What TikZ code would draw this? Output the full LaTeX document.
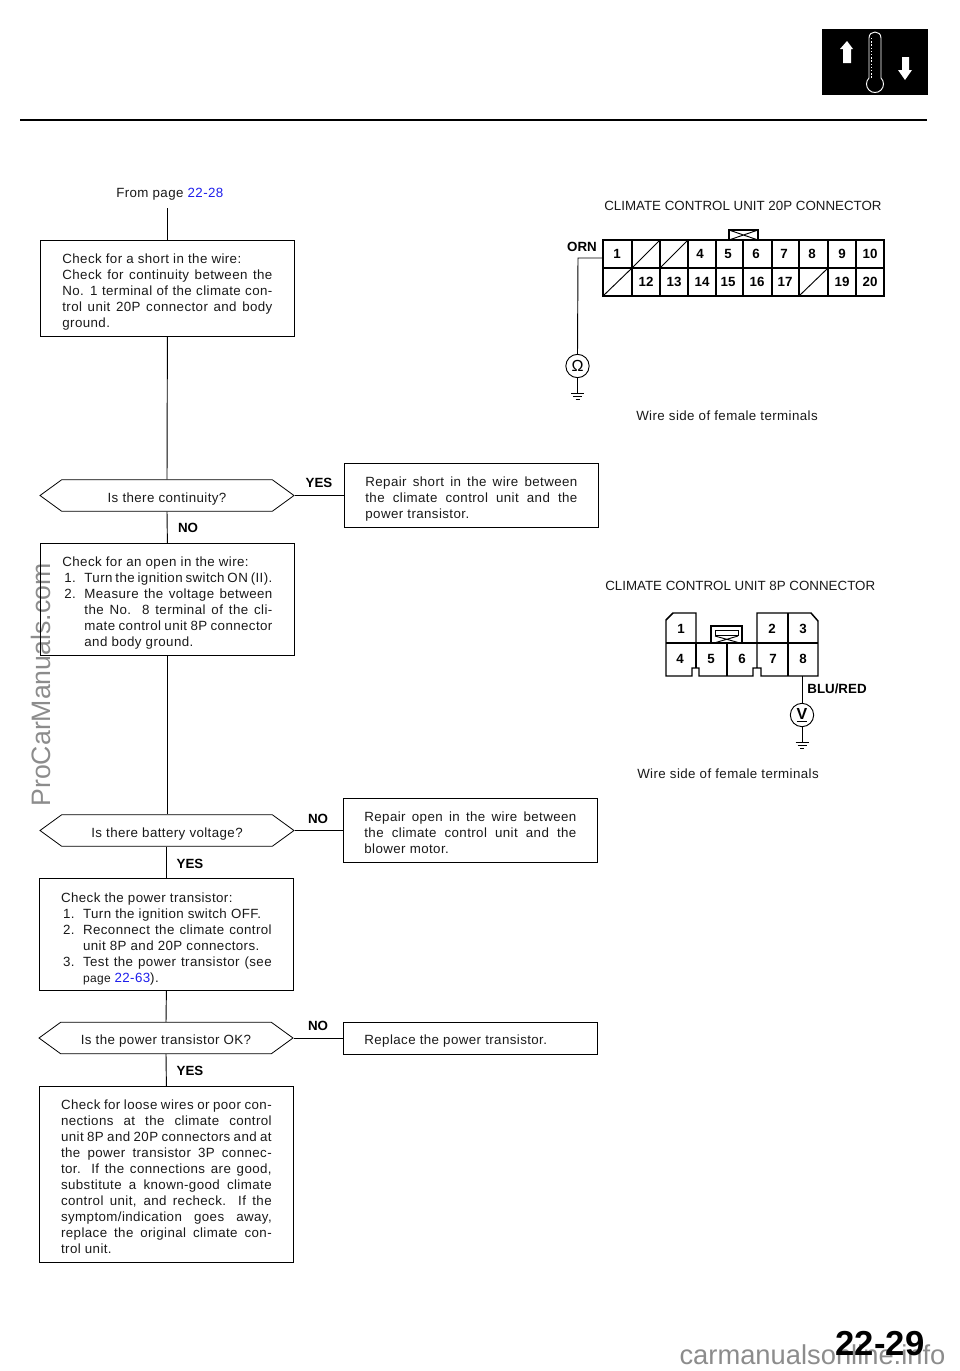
\documentclass[tikz,border=0pt]{standalone}
\usepackage{fontspec}
\setmainfont{Liberation Sans}
\newfontfamily\bodyf[LetterSpace=3]{Liberation Sans}
\usetikzlibrary{shapes.symbols,calc}
\definecolor{linkblue}{RGB}{30,30,235}
\newcommand{\jl}[2]{\makebox[#1pt][s]{#2}}
\newcommand{\lk}[1]{\textcolor{linkblue}{#1}}
\newcommand{\fl}{\rule{0pt}{12.5pt}}
\newcommand{\flh}{\rule{0pt}{14pt}}
\newcommand{\fls}{\rule{0pt}{11pt}}
\newcommand{\num}[1]{\hspace*{1.5pt}\makebox[15pt][l]{#1}}
\newcommand{\hexlift}[1]{\raisebox{-4.9pt}[0pt][0pt]{#1}}
\newcommand{\gnd}[2]{\draw[wire] (#1-6.5,#2) -- (#1+6.5,#2) (#1-4.5,#2+3) -- (#1+4.5,#2+3) (#1-2,#2+6) -- (#1+2,#2+6);}
\tikzset{
 x=0.75pt,y=-0.75pt,
 txt/.style={font=\fontsize{10}{12}\selectfont\bodyf,inner sep=0pt,text=black!90},
 ttl/.style={font=\fontsize{10}{12}\selectfont,inner sep=0pt,text=black!90},
 stepbox/.style={draw,line width=0.6pt,minimum width=190.5pt,align=left,inner sep=0pt,font=\fontsize{10}{12}\selectfont\bodyf,text=black!90},
 hexbox/.style={draw,line width=0.6pt,signal,signal to=east and west,signal pointer angle=72,minimum width=190.5pt,minimum height=23.5pt,inner sep=0pt,font=\fontsize{10}{12}\selectfont\bodyf,text=black!90},
 flow/.style={line width=0.7pt},
 lab/.style={font=\bfseries\fontsize{10}{12}\selectfont,inner sep=0pt},
 wire/.style={line width=0.7pt},
 conn/.style={line width=1.1pt},
 pin/.style={font=\bfseries\fontsize{10}{12}\selectfont,inner sep=0pt},
 meter/.style={draw,circle,line width=0.7pt,minimum size=17.5pt,inner sep=0pt,font=\fontsize{12}{12}\selectfont},
 wm/.style={inner sep=0pt,text=black,text opacity=0.45},
}
\begin{document}
\begin{tikzpicture}
\useasboundingbox (0,0) rectangle (960,1371);
% header
\draw[line width=1.5pt] (20,120) -- (927,120);
\fill[black] (822,29) rectangle (928,95);
\fill[white] (847,41) -- (853,49) -- (851,49) -- (851,63) -- (843,63) -- (843,49) -- (840,49) -- cycle;
\fill[white] (905,80) -- (912,70) -- (909,70) -- (909,57) -- (902,57) -- (902,70) -- (898,70) -- cycle;
\draw[white,line width=0.7pt] (869,78) -- (869,38) .. controls (869,30) and (881,30) .. (881,38) -- (881,78) arc (-45:225:8.5);
\draw[white,line width=1pt,dash pattern=on 1pt off 1.4pt] (871.5,38) -- (871.5,78);
% flow
\node[txt,anchor=west] (from) at (116,194) {From page \lk{22-28}};
\coordinate (fromend) at (167.5,208);
\node[stepbox,anchor=north west,minimum height=72pt] (b1) at (40,240) {\jl{157.5}{\fl Check for a short in the wire:\hfill}\\\jl{157.5}{Check for continuity between the}\\\jl{157.5}{No. 1 terminal of the climate con-}\\\jl{157.5}{trol unit 20P connector and body}\\\jl{157.5}{ground.\hfill}};
\node[hexbox] (h1) at (167,495.5) {\hexlift{Is there continuity?}};
\node[stepbox,anchor=north west,minimum height=48pt] (r1) at (344,463) {\jl{159}{\fl Repair short in the wire between}\\\jl{159}{the climate control unit and the}\\\jl{159}{power transistor.\hfill}};
\node[stepbox,anchor=north west,minimum height=84pt] (b2) at (40,543) {\jl{157.5}{\fl Check for an open in the wire:\hfill}\\\num{1.}\jl{141}{Turn the ignition switch ON (II).}\\\num{2.}\jl{141}{Measure the voltage between}\\\hspace*{16.5pt}\jl{141}{the No. 8 terminal of the cli-}\\\hspace*{16.5pt}\jl{141}{mate control unit 8P connector}\\\hspace*{16.5pt}\jl{141}{and body ground.\hfill}};
\node[hexbox] (h2) at (167,830.5) {\hexlift{Is there battery voltage?}};
\node[stepbox,anchor=north west,minimum height=48pt] (r2) at (343,798) {\jl{159}{\fls Repair open in the wire between}\\\jl{159}{the climate control unit and the}\\\jl{159}{blower motor.\hfill}};
\node[stepbox,anchor=north west,minimum height=84pt] (b3) at (39,878) {\jl{158}{\flh Check the power transistor:\hfill}\\\num{1.}\jl{141.5}{Turn the ignition switch OFF.\hfill}\\\num{2.}\jl{141.5}{Reconnect the climate control}\\\hspace*{16.5pt}\jl{141.5}{unit 8P and 20P connectors.\hfill}\\\num{3.}\jl{141.5}{Test the power transistor (see}\\\hspace*{16.5pt}\jl{141.5}{{\fontsize{9}{12}\selectfont page }\lk{22-63}).\hfill}};
\node[hexbox] (h3) at (166,1038) {\hexlift{Is the power transistor OK?}};
\node[stepbox,anchor=north west,minimum height=24pt] (r3) at (343,1022) {\jl{159}{\fls Replace the power transistor.\hfill}};
\node[stepbox,anchor=north west,minimum height=132pt] (b4) at (39,1086) {\jl{158}{\fls Check for loose wires or poor con-}\\\jl{158}{nections at the climate control}\\\jl{158}{unit 8P and 20P connectors and at}\\\jl{158}{the power transistor 3P connec-}\\\jl{158}{tor. If the connections are good,}\\\jl{158}{substitute a known-good climate}\\\jl{158}{control unit, and recheck. If the}\\\jl{158}{symptom/indication goes away,}\\\jl{158}{replace the original climate con-}\\\jl{158}{trol unit.\hfill}};
\draw[flow] (fromend) -- (fromend |- b1.north);
\draw[flow] (b1.south) -- (h1.north);
\draw[flow] (h1.south) -- (b2.north);
\draw[flow] (b2.south) -- (b2.south |- h2.north);
\draw[flow] (b3.north |- h2.south) -- (b3.north);
\draw[flow] (b3.south) -- (h3.north);
\draw[flow] (h3.south) -- (b4.north);
\draw[flow] (h1.east) -- (r1.west |- h1.east);
\draw[flow] (h2.east) -- (r2.west |- h2.east);
\draw[flow] (h3.east) -- (r3.west |- h3.east);
\node[lab] (y1) at (319,483) {YES};
\node[lab] (n1) at (188,528) {NO};
\node[lab] (n2) at (318,819) {NO};
\node[lab] (y2) at (190,864) {YES};
\node[lab] (n3) at (318,1026) {NO};
\node[lab] (y3) at (190,1071) {YES};
% 20P connector
\node[ttl,anchor=west] (t20) at (604,206) {CLIMATE CONTROL UNIT 20P CONNECTOR};
\node[txt,anchor=west] (w20) at (636,416) {Wire side of female terminals};
\begin{scope}[conn]
\draw (603,240) rectangle (884,296);
\draw (603,268) -- (884,268);
\foreach \xx in {632,660,688,716,743,772,799,828,856} \draw (\xx,240) -- (\xx,296);
\draw[line width=0.7pt] (632,268) -- (660,240) (660,268) -- (688,240) (603,296) -- (632,268) (799,296) -- (828,268);
\draw (729,230) rectangle (758,240);
\draw[line width=0.7pt] (729,230) -- (758,240) (729,240) -- (758,230);
\end{scope}
\foreach \nm/\xx/\yy in {1/617/254,4/700/254,5/728/254,6/756/254,7/784/254,8/812/254,9/842/254,10/870/254,12/646/282,13/674/282,14/702/282,15/728/282,16/757/282,17/785/282,19/842/282,20/870/282}
  \node[pin] (p\nm) at (\xx,\yy) {\nm};
\node[pin] (orn) at (582,247) {ORN};
\coordinate (t1) at (603,258);
\node[meter] (ohm) at (577.5,366) {Ω};
\draw[wire] (t1) -- (578,258) -- (ohm.north);
\draw[wire] (ohm.south) -- (577.5,393);
\gnd{577.5}{393}
% 8P connector
\node[ttl,anchor=west] (t8) at (605,586) {CLIMATE CONTROL UNIT 8P CONNECTOR};
\node[txt,anchor=west] (w8) at (637,774) {Wire side of female terminals};
\begin{scope}[conn]
\draw (696,643) -- (696,613) -- (673,613) -- (666,620) -- (666,676) -- (692,676) -- (692,668) -- (699,668) -- (699,676) -- (753,676) -- (753,668) -- (761,668) -- (761,676) -- (818,676) -- (818,621) -- (811,613) -- (757,613) -- (757,668);
\draw (666,643) -- (818,643);
\draw (788,613) -- (788,676);
\draw (727,643) -- (727,676);
\draw (696,643) -- (696,668);
\draw (711,643) -- (711,626) -- (742,626) -- (742,643);
\draw[line width=0.7pt] (715,635) rectangle (738,630);
\draw[line width=0.7pt] (714,643) -- (738,636) (715,636) -- (740,643);
\end{scope}
\foreach \nm/\xx/\yy in {1/681/629,2/772/629,3/803/629,4/680/659,5/711/659,6/742/659,7/773/659,8/803/659}
  \node[pin] (q\nm) at (\xx,\yy) {\nm};
\node[pin] (blu) at (837,689) {BLU/RED};
\coordinate (t8p) at (802,676);
\node[meter] (volt) at (802,715) {\underline{\textbf{V}}};
\draw[wire] (t8p) -- (volt.north);
\draw[wire] (volt.south) -- (802,742);
\gnd{802}{742}
% page number and watermarks
\node[font=\bfseries\fontsize{26}{28}\selectfont,inner sep=0pt,text=black] (pg) at (880,1344) {22-29};
\node[wm,font=\fontsize{20.5}{24}\selectfont] (wm2) at (812.5,1355) {carmanualsonline.info};
\node[wm,font=\fontsize{20}{24}\selectfont,rotate=90] (wm1) at (41,685) {ProCarManuals.com};
\end{tikzpicture}
\end{document}
